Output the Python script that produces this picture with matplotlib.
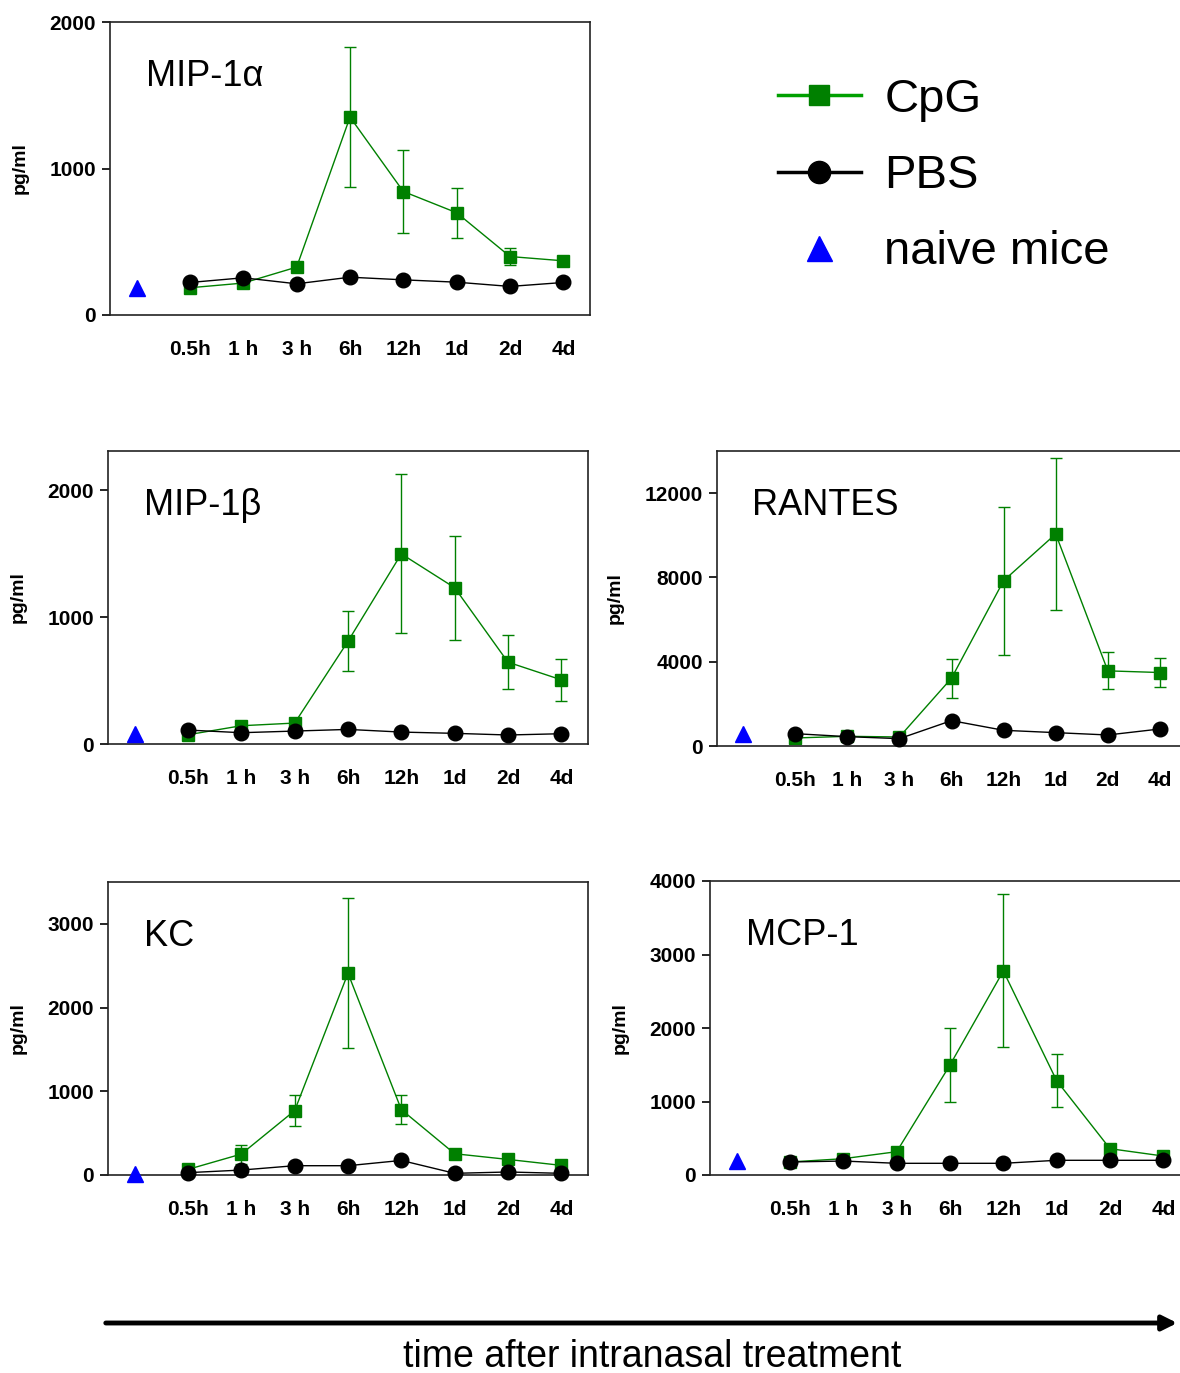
import matplotlib
matplotlib.use('Agg')
import numpy as np
import matplotlib.pyplot as plt
from matplotlib.lines import Line2D
from matplotlib.patches import FancyArrowPatch

plt.rcParams['font.family'] = ['Liberation Sans', 'DejaVu Sans']

W, H = 1180, 1373

time_labels = ['0.5h', '1 h', '3 h', '6h', '12h', '1d', '2d', '4d']

# MIP-1 alpha
mip1a_cpg = [186, 218, 327, 1351, 843, 698, 399, 370]
mip1a_cpg_err = [0, 0, 0, 478, 281, 169, 60, 0]
mip1a_pbs = [222, 254, 213, 258, 240, 224, 195, 222]
mip1a_naive = 186

# MIP-1 beta
mip1b_cpg = [73, 144, 165, 810, 1499, 1232, 645, 506]
mip1b_cpg_err = [0, 0, 0, 238, 627, 411, 214, 167]
mip1b_pbs = [110, 89, 102, 115, 94, 84, 71, 81]
mip1b_naive = 76

# RANTES
rantes_cpg = [380, 460, 428, 3217, 7845, 10063, 3566, 3487]
rantes_cpg_err = [0, 0, 0, 919, 3518, 3590, 872, 705]
rantes_pbs = [586, 444, 349, 1204, 745, 634, 523, 808]
rantes_pbs_err = [0, 0, 0, 0, 0, 0, 0, 250]
rantes_naive = 586

# KC
kc_cpg = [67, 250, 769, 2410, 781, 254, 186, 115]
kc_cpg_err = [0, 113, 186, 894, 175, 0, 0, 0]
kc_pbs = [28, 59, 111, 111, 174, 20, 36, 20]
kc_naive = 8

# MCP-1
mcp1_cpg = [177, 222, 317, 1497, 2776, 1283, 358, 258]
mcp1_cpg_err = [0, 0, 0, 499, 1041, 363, 0, 0]
mcp1_pbs = [177, 190, 159, 159, 159, 200, 200, 200]
mcp1_naive = 190

GREEN = '#008000'


def px_rect(l, t, r, b):
    return [l / W, 1 - b / H, (r - l) / W, (b - t) / H]


fig = plt.figure(figsize=(W / 100, H / 100), dpi=100)

panels = [
    ('MIP-1α', px_rect(110, 22, 590, 315), mip1a_cpg, mip1a_cpg_err, mip1a_pbs, None,
     mip1a_naive, 2000, [0, 1000, 2000], -0.169),
    ('MIP-1β', px_rect(108, 451, 588, 744), mip1b_cpg, mip1b_cpg_err, mip1b_pbs, None,
     mip1b_naive, 2310, [0, 1000, 2000], -0.169),
    ('RANTES', px_rect(717, 451, 1186, 746), rantes_cpg, rantes_cpg_err, rantes_pbs, rantes_pbs_err,
     rantes_naive, 14000, [0, 4000, 8000, 12000], -0.198),
    ('KC', px_rect(108, 882, 588, 1175), kc_cpg, kc_cpg_err, kc_pbs, None,
     kc_naive, 3500, [0, 1000, 2000, 3000], -0.169),
    ('MCP-1', px_rect(710, 881, 1190, 1175), mcp1_cpg, mcp1_cpg_err, mcp1_pbs, None,
     mcp1_naive, 4000, [0, 1000, 2000, 3000, 4000], -0.169),
]

x = np.arange(1, 9)
for name, rect, cpg, cpg_err, pbs, pbs_err, naive, ytop, yticks, lab_x in panels:
    ax = fig.add_axes(rect)
    ax.errorbar(x, cpg, yerr=cpg_err, color=GREEN, marker='s', ms=9, lw=1,
                elinewidth=1, capsize=4, capthick=1, zorder=2, clip_on=False)
    ax.errorbar(x, pbs, yerr=pbs_err, color='black', marker='o', ms=10.5, lw=1,
                elinewidth=1, capsize=3, zorder=3, clip_on=False)
    ax.plot([0], [naive], '^', color='blue', ms=11, zorder=3, clip_on=False)
    ax.set_xlim(-0.5, 8.5)
    ax.set_ylim(0, ytop)
    ax.set_xticks(x)
    ax.set_xticklabels(time_labels, fontsize=15, fontweight='bold')
    ax.set_yticks(yticks)
    ax.set_yticklabels([str(v) for v in yticks], fontsize=15, fontweight='bold')
    ax.tick_params(axis='x', length=0, pad=18)
    ax.tick_params(axis='y', length=6, width=1.2, pad=4, direction='out')
    for sp in ax.spines.values():
        sp.set_linewidth(1.2)
        sp.set_color('#222222')
    ax.set_ylabel('pg/ml', fontsize=14, fontweight='bold')
    ax.yaxis.set_label_coords(lab_x, 0.5)
    ax.text(0.075, 0.815, name, transform=ax.transAxes, fontsize=26,
            ha='left', va='center')

# legend
handles = [
    Line2D([], [], color='#00a000', lw=2.5, marker='s', ms=14, mfc=GREEN, mec=GREEN),
    Line2D([], [], color='black', lw=2.5, marker='o', ms=16),
    Line2D([], [], color='blue', lw=0, marker='^', ms=18),
]
fig.legend(handles, ['CpG', 'PBS', 'naive mice'], loc='upper left',
           bbox_to_anchor=(778 / W, 1 - 78 / H), frameon=False, fontsize=34,
           handlelength=1.75, handletextpad=0.5, labelspacing=0.68,
           borderpad=0, borderaxespad=0)

# time arrow
arrow = FancyArrowPatch((103 / W, 1 - 1323 / H), (1180 / W, 1 - 1323 / H),
                        transform=fig.transFigure, arrowstyle='-|>', lw=3.5,
                        color='black', mutation_scale=22)
fig.add_artist(arrow)
fig.text(652 / W, 1 - 1357 / H, 'time after intranasal treatment',
         ha='center', va='center', fontsize=27)

fig.savefig('out.png', dpi=100)
